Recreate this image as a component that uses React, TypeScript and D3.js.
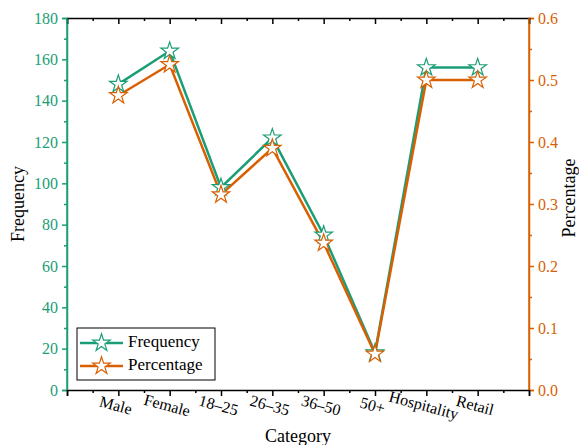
import React, { useEffect, useRef } from 'react';
import * as d3 from 'd3';

const categories = ['Male', 'Female', '18–25', '26–35', '36–50', '50+', 'Hospitality', 'Retail'];
const frequency = [148, 164, 98, 122, 75, 18, 156, 156];
const percentage = [0.475, 0.525, 0.315, 0.39, 0.237, 0.058, 0.5, 0.5];
const freqTicks = [0, 20, 40, 60, 80, 100, 120, 140, 160, 180];
const pctTicks = [0, 0.1, 0.2, 0.3, 0.4, 0.5, 0.6];

const GREEN = '#1b9e77';
const ORANGE = '#d95f02';
const FONT = 'Liberation Serif';

const App = () => {
  const svgRef = useRef<SVGSVGElement>(null);

  useEffect(() => {
    const svg = d3.select(svgRef.current);
    svg.selectAll('*').remove();

    const left = 67, right = 529, top = 18, bottom = 390;

    const x = d3.scaleLinear().domain([0, categories.length + 1]).range([left, right]);
    const yF = d3.scaleLinear().domain([0, 180]).range([bottom, top]);
    const yP = d3.scaleLinear().domain([0, 0.6]).range([bottom, top]);

    const star = d3.symbol().type(d3.symbolStar).size(95);

    // series
    const series = [
      { vals: frequency, y: yF, color: GREEN },
      { vals: percentage, y: yP, color: ORANGE },
    ];
    series.forEach(s => {
      const line = d3.line<number>()
        .x((_, i) => x(i + 1))
        .y(d => s.y(d));
      svg.append('path')
        .datum(s.vals)
        .attr('fill', 'none')
        .attr('stroke', s.color)
        .attr('stroke-width', 2.5)
        .attr('d', line);
    });
    series.forEach(s => {
      svg.selectAll(null)
        .data(s.vals)
        .enter().append('path')
        .attr('d', star)
        .attr('transform', (d, i) => `translate(${x(i + 1)},${s.y(d)})`)
        .attr('fill', 'white')
        .attr('stroke', s.color)
        .attr('stroke-width', 1.2);
    });

    // left axis
    const leftAxis = d3.axisLeft(yF).tickValues(freqTicks).tickSize(5).tickPadding(4);
    const gl = svg.append('g').attr('transform', `translate(${left},0)`).call(leftAxis);
    gl.attr('font-family', FONT).attr('font-size', 16);
    gl.select('.domain').attr('stroke', GREEN).attr('stroke-width', 1.5);
    gl.selectAll('line').attr('stroke', GREEN).attr('stroke-width', 1.5);
    gl.selectAll('text').attr('fill', GREEN);
    const gl2 = svg.append('g').attr('transform', `translate(${left},0)`)
      .call(d3.axisLeft(yF).tickValues(d3.range(10, 180, 20)).tickSize(3).tickFormat(() => ''));
    gl2.select('.domain').remove();
    gl2.selectAll('line').attr('stroke', GREEN).attr('stroke-width', 1.5);

    // right axis
    const rightAxis = d3.axisRight(yP).tickValues(pctTicks).tickSize(5).tickPadding(4).tickFormat(d3.format('.1f'));
    const gr = svg.append('g').attr('transform', `translate(${right},0)`).call(rightAxis);
    gr.attr('font-family', FONT).attr('font-size', 16);
    gr.select('.domain').attr('stroke', ORANGE).attr('stroke-width', 1.5);
    gr.selectAll('line').attr('stroke', ORANGE).attr('stroke-width', 1.5);
    gr.selectAll('text').attr('fill', ORANGE);
    const gr2 = svg.append('g').attr('transform', `translate(${right},0)`)
      .call(d3.axisRight(yP).tickValues(d3.range(0.05, 0.6, 0.1)).tickSize(3).tickFormat(() => ''));
    gr2.select('.domain').remove();
    gr2.selectAll('line').attr('stroke', ORANGE).attr('stroke-width', 1.5);

    // bottom axis
    const major = d3.range(0, categories.length + 2);
    const minor = d3.range(0.5, categories.length + 1, 1);
    const gb = svg.append('g').attr('transform', `translate(0,${bottom})`)
      .call(d3.axisBottom(x).tickValues(major).tickSize(6).tickFormat(() => ''));
    gb.select('.domain').attr('stroke', 'black').attr('stroke-width', 1.5);
    gb.selectAll('line').attr('stroke', 'black').attr('stroke-width', 1.5);
    const gb2 = svg.append('g').attr('transform', `translate(0,${bottom})`)
      .call(d3.axisBottom(x).tickValues(minor).tickSize(3).tickFormat(() => ''));
    gb2.select('.domain').remove();
    gb2.selectAll('line').attr('stroke', 'black').attr('stroke-width', 1.5);

    // top axis (ticks inward)
    const gt = svg.append('g').attr('transform', `translate(0,${top})`)
      .call(d3.axisBottom(x).tickValues(major).tickSize(6).tickFormat(() => ''));
    gt.select('.domain').attr('stroke', 'black').attr('stroke-width', 1.5);
    gt.selectAll('line').attr('stroke', 'black').attr('stroke-width', 1.5);
    const gt2 = svg.append('g').attr('transform', `translate(0,${top})`)
      .call(d3.axisBottom(x).tickValues(minor).tickSize(3).tickFormat(() => ''));
    gt2.select('.domain').remove();
    gt2.selectAll('line').attr('stroke', 'black').attr('stroke-width', 1.5);

    // side axis lines drawn again over top/bottom
    svg.append('line').attr('x1', left).attr('x2', left).attr('y1', top).attr('y2', bottom)
      .attr('stroke', GREEN).attr('stroke-width', 1.5);
    svg.append('line').attr('x1', right).attr('x2', right).attr('y1', top).attr('y2', bottom)
      .attr('stroke', ORANGE).attr('stroke-width', 1.5);

    // category labels, rotated
    svg.append('g').attr('font-family', FONT).attr('font-size', 16)
      .selectAll('text')
      .data(categories)
      .enter().append('text')
      .attr('transform', (d, i) => `translate(${x(i + 1) - 3},${bottom + 17}) rotate(15)`)
      .attr('text-anchor', 'middle')
      .attr('dominant-baseline', 'middle')
      .attr('fill', 'black')
      .text(d => d);

    // axis titles
    const titles = svg.append('g').attr('font-family', FONT).attr('font-size', 18);
    titles.append('text')
      .attr('transform', `translate(24,${(top + bottom) / 2}) rotate(-90)`)
      .attr('text-anchor', 'middle')
      .text('Frequency');
    titles.append('text')
      .attr('transform', `translate(575,${(top + bottom) / 2 - 6}) rotate(-90)`)
      .attr('text-anchor', 'middle')
      .text('Percentage');
    titles.append('text')
      .attr('x', 298).attr('y', 442)
      .attr('text-anchor', 'middle')
      .text('Category');

    // legend
    const legend = svg.append('g').attr('transform', 'translate(77,328)')
      .attr('font-family', FONT).attr('font-size', 17);
    legend.append('rect')
      .attr('width', 138).attr('height', 52)
      .attr('fill', 'white').attr('stroke', 'black').attr('stroke-width', 1);
    const items = [
      { name: 'Frequency', color: GREEN },
      { name: 'Percentage', color: ORANGE },
    ];
    items.forEach((it, i) => {
      const cy = 15 + i * 23;
      legend.append('line')
        .attr('x1', 3).attr('x2', 46).attr('y1', cy).attr('y2', cy)
        .attr('stroke', it.color).attr('stroke-width', 2.5);
      legend.append('path')
        .attr('d', star)
        .attr('transform', `translate(24.5,${cy})`)
        .attr('fill', 'white').attr('stroke', it.color).attr('stroke-width', 1.2);
      legend.append('text')
        .attr('x', 51).attr('y', cy)
        .attr('dominant-baseline', 'middle')
        .text(it.name);
    });
  }, []);

  return (
    <svg ref={svgRef} width={579} height={445}
      style={{ position: 'absolute', left: 0, top: 0, background: 'white' }} />
  );
};

export default App;
